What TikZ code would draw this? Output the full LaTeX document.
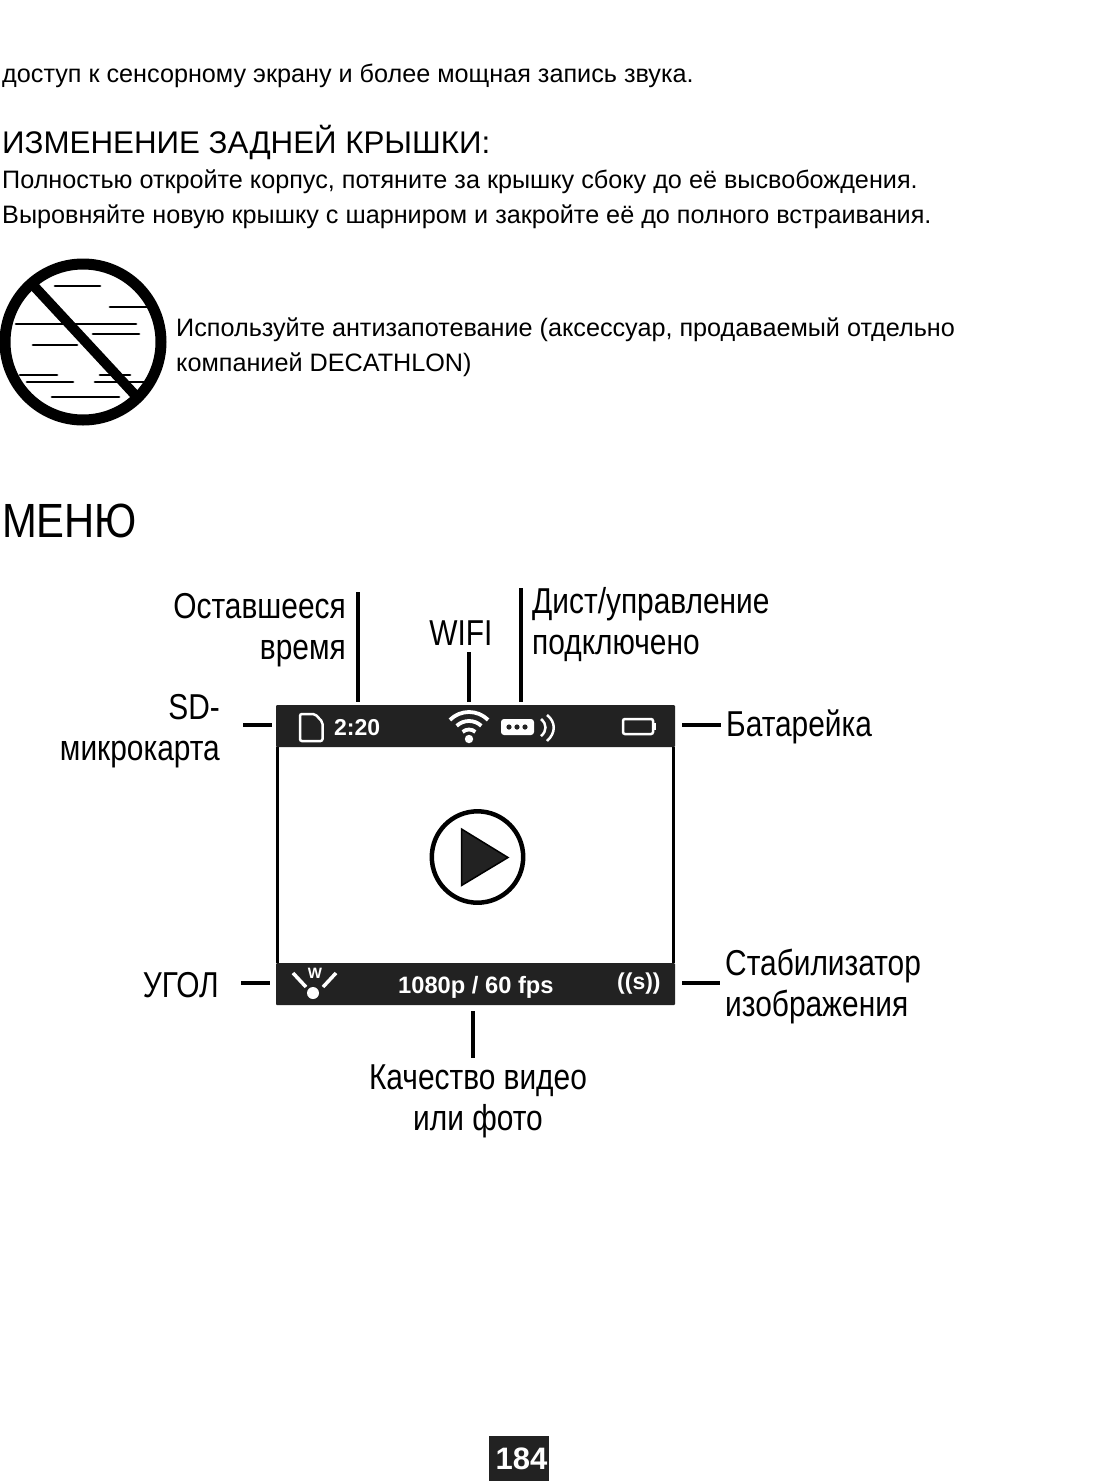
\documentclass[tikz,border=0pt]{standalone}
\usepackage{fontspec}
\setmainfont{Liberation Sans}
\newfontfamily\narrowfont[FakeStretch=0.83]{Liberation Sans}
\newfontfamily\menufont[FakeStretch=0.87]{Liberation Sans}
\usetikzlibrary{positioning,calc}
\definecolor{Bar}{HTML}{222222}

\begin{document}
\begin{tikzpicture}[
    x=1pt,y=-1pt,
    txt/.style={inner sep=0pt,anchor=base west,font=\fontsize{25.2}{25.2}\selectfont},
    lbl/.style={inner sep=0pt,font=\narrowfont\fontsize{36}{41}\selectfont,align=center},
    tick/.style={line width=4pt},
    fogline/.style={line width=2.7pt,line cap=round},
    icon/.style={white,line width=2.5pt},
    bartext/.style={inner sep=0pt,anchor=base west,text=white,font=\bfseries\fontsize{23}{23}\selectfont}
  ]
    \useasboundingbox[fill=white] (0,0) rectangle (1113,1481);
    % text at the top
    \node[txt] (access) at (2,82) {доступ к сенсорному экрану и более мощная запись звука.};
    \node[txt,font=\fontsize{31.3}{31.3}\selectfont] (cover) at (2,153) {ИЗМЕНЕНИЕ ЗАДНЕЙ КРЫШКИ:};
    \node[txt] (open) at (2,188) {Полностью откройте корпус, потяните за крышку сбоку до её высвобождения.};
    \node[txt] (align) at (2,223) {Выровняйте новую крышку с шарниром и закройте её до полного встраивания.};
    \node[txt] (fog) at (176,336) {Используйте антизапотевание (аксессуар, продаваемый отдельно};
    \node[txt] (deca) at (176,371) {компанией DECATHLON)};
    \node[txt,font=\menufont\fontsize{48}{48}\selectfont] (menu) at (2,537) {МЕНЮ};
    % no fog sign
    \foreach \xa/\xb/\yy in {55/100/286,110/148/307,16/136/324,93/139/334,33/77/345,20/57/375,100/130/375,27/73/382,95/145/382,52/119/397}
      \draw[fogline] (\xa,\yy) -- (\xb,\yy);
    \draw[line width=11pt] (83,342) circle (78);
    \draw[line width=10pt] (33,285) -- (136,396);
    % screen
    \fill[Bar,rounded corners=1pt] (276,705) rectangle (675,747);
    \fill[Bar,rounded corners=1pt] (276,963) rectangle (675,1005);
    \draw[line width=3pt] (277.5,747) -- (277.5,963) (673.5,747) -- (673.5,963);
    \draw[line width=4.5pt] (477.5,857) circle (45.7);
    \draw[fill=Bar,line width=1.5pt] (461.5,829) -- (508,857.5) -- (461.5,885.5) -- cycle;
    % top bar
    \draw[icon,rounded corners=2pt] (300,714) -- (315,714) -- (322.5,722) -- (322.5,741) -- (300,741) -- cycle;
    \node[bartext] (time) at (334,735) {2:20};
    \fill[white] (469,739) circle (4.2);
    \foreach \rr/\aa in {9.5/42,18/43,27/45}
      \draw[white,line width=3.8pt] ($(469,739)+(270-\aa:\rr)$) arc[start angle=270-\aa,end angle=270+\aa,radius=\rr];
    \fill[white,rounded corners=3pt] (501,719) rectangle (534,735);
    \foreach \xx in {509,517,525}
      \fill[Bar] (\xx,727) circle (2.6);
    \draw[icon] (541,719) .. controls (547,724) and (547,731) .. (541,736);
    \draw[icon] (547,715) .. controls (556,722) and (556,733) .. (547,741);
    \draw[icon,rounded corners=2pt] (623,719) rectangle (653,734);
    \fill[white] (654,723) rectangle (656,730);
    % bottom bar
    \node[inner sep=0pt,text=white,font=\bfseries\fontsize{15}{15}\selectfont] (wide) at (315,973) {W};
    \fill[white] (313,993) circle (6);
    \draw[white,line width=3.5pt] (293,973) -- (306,987);
    \draw[white,line width=3.5pt] (336,973) -- (323,987);
    \node[bartext,font=\bfseries\fontsize{23.7}{23.7}\selectfont] (quality) at (398,993) {1080p / 60 fps};
    \node[bartext] (stab) at (617,989) {((s))};
    % labels
    \node[lbl,align=right,anchor=base east] (left) at (346,659) {Оставшееся\\время};
    \node[lbl,anchor=base] (wifi) at (461,645) {WIFI};
    \node[lbl,align=left,anchor=base west] (remote) at (532,654) {Дист/управление\\подключено};
    \node[lbl,align=right,anchor=base east] (sd) at (220,760) {SD-\\микрокарта};
    \node[lbl,anchor=base west] (battery) at (726,736) {Батарейка};
    \node[lbl,anchor=base east] (angle) at (219,997) {УГОЛ};
    \node[lbl,align=left,anchor=base west] (stabilizer) at (725,1016) {Стабилизатор\\изображения};
    \node[lbl,anchor=base] (video) at (478,1130) {Качество видео\\или фото};
    % ticks
    \foreach \name/\xa/\ya/\xb/\yb in {t1/358/592/358/702,t2/469/652/469/702,t3/521/588/521/702,t4/243/725/272/725,t5/682/725/721/725,t6/241/983/270/983,t7/682/983/720/983,t8/473/1011/473/1058}{
      \coordinate (\name a) at (\xa,\ya);
      \coordinate (\name b) at (\xb,\yb);
      \draw[tick] (\name a) -- (\name b);
    }
    % page number
    \node[fill=Bar,text=white,inner sep=0pt,minimum width=60pt,minimum height=45pt,font=\bfseries\fontsize{31}{31}\selectfont] (page) at (519,1458.5) {\kern5pt 184};
  \end{tikzpicture}
\end{document}
